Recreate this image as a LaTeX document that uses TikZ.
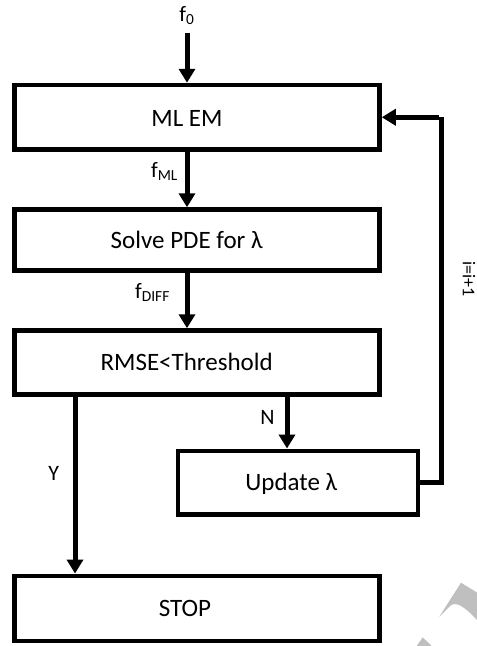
\documentclass[tikz,border=0pt]{standalone}
\usepackage{fontspec}
\setmainfont{Carlito}
\usetikzlibrary{arrows.meta}
\begin{document}
\begin{tikzpicture}[x=1pt,y=-1pt,
  box/.style={draw, line width=4.5pt, rectangle, inner sep=0pt},
  txt/.style={inner sep=0pt, anchor=base, font=\fontsize{25}{30}\selectfont},
  lab/.style={inner sep=0pt, anchor=base, font=\fontsize{22}{26}\selectfont},
  arr/.style={line width=5pt, -{Triangle[width=16pt,length=14pt]}},
  fb/.style={line width=5pt},
  wm/.style={fill=black!25, draw=none}]
\useasboundingbox (0,0) rectangle (477,646);
% boxes
\node[box, minimum width=365pt, minimum height=64.5pt] (mlem) at (197,117.25) {};
\node[box, minimum width=365pt, minimum height=61pt] (pde) at (197,240) {};
\node[box, minimum width=365pt, minimum height=64pt] (rmse) at (197,362.5) {};
\node[box, minimum width=240pt, minimum height=63.5pt] (upd) at (298,482.5) {};
\node[box, minimum width=365pt, minimum height=65pt] (stop) at (197,608.3) {};
% box texts
\node[txt] (tmlem) at (187,126.7) {ML EM};
\node[txt] (tpde) at (186.7,248.3) {Solve PDE for λ};
\node[txt] (trmse) at (186.7,370) {RMSE<Threshold};
\node[txt] (tupd) at (291.3,490) {Update λ};
\node[txt] (tstop) at (185,616.7) {STOP};
% connectors
\coordinate (in) at (187,33);
\draw[arr] (in) -- (in |- mlem.north);
\coordinate (c1) at (187,0);
\draw[arr] (c1 |- mlem.south) -- (c1 |- pde.north);
\draw[arr] (c1 |- pde.south) -- (c1 |- rmse.north);
\coordinate (cy) at (75,0);
\draw[arr] (cy |- rmse.south) -- (cy |- stop.north);
\coordinate (cn) at (287,0);
\draw[arr] (cn |- rmse.south) -- (cn |- upd.north);
\coordinate (cr) at (441,0);
\draw[fb] (upd.east) -- (cr |- upd.east) -- (cr |- mlem.east);
\draw[arr] ([xshift=-2.5pt]cr |- mlem.east) -- (mlem.east);
% labels
\node[lab] (lf0) at (187,21.7) {f\textsubscript{0}};
\node[lab] (lfml) at (164.5,177) {f\textsubscript{ML}};
\node[lab] (lfdiff) at (152.5,298.7) {f\textsubscript{DIFF}};
\node[lab] (ln) at (267.5,424) {N};
\node[lab] (ly) at (53.7,480.7) {Y};
\node[inner sep=0pt, rotate=-90, font=\fontsize{18}{22}\selectfont] (li) at (469,279) {i=i+1};
% watermark fragments
\fill[wm] (439.3,616.7) -- (461,582.7) -- (477,592.5) -- (477,620)
  .. controls (464,606) and (455,600) .. (449,607) -- cycle;
\fill[wm] (416.7,646) -- (422.7,637.3) -- (431.7,646) -- cycle;
\end{tikzpicture}
\end{document}
